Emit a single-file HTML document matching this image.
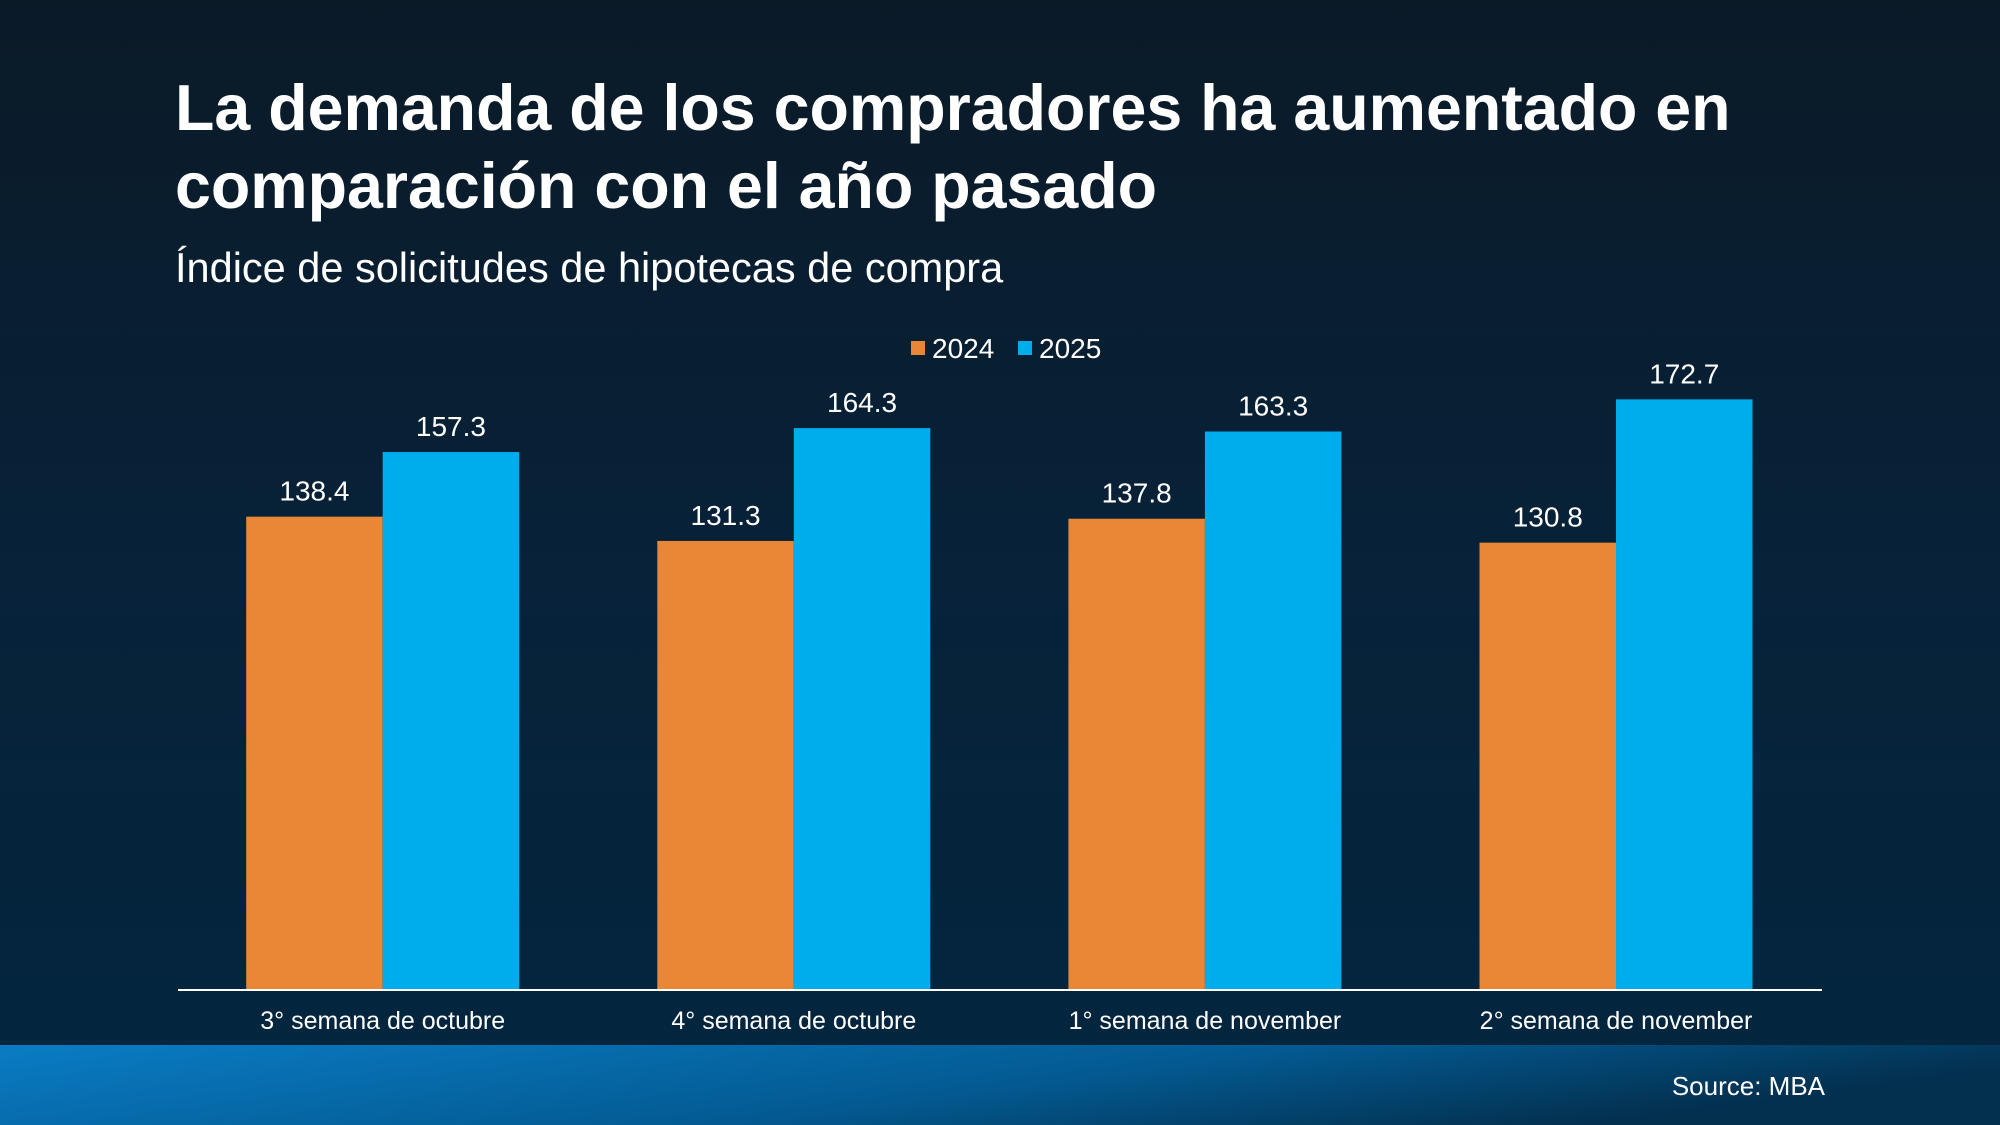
<!DOCTYPE html>
<html><head><meta charset="utf-8"><style>
html,body{margin:0;padding:0}
body{width:2000px;height:1125px;overflow:hidden;background:linear-gradient(180deg,#0b1a27 0%,#072239 50%,#03263f 100%);font-family:"Liberation Sans",Arial,sans-serif}
svg{display:block}
</style></head><body>
<svg width="2000" height="1125">
<defs><linearGradient id="ft" x1="0" y1="0" x2="1" y2="0.3"><stop offset="0" stop-color="#0a7cc4"/><stop offset="0.6" stop-color="#035a92"/><stop offset="1" stop-color="#03304f"/></linearGradient></defs>
<text x="175" y="130" font-size="64.5" font-weight="bold" fill="#fff">La demanda de los compradores ha aumentado en</text>
<text x="175" y="208" font-size="64.5" font-weight="bold" fill="#fff">comparación con el año pasado</text>
<text x="175" y="282" font-size="41.5" fill="#fff">Índice de solicitudes de hipotecas de compra</text>
<rect x="911" y="341" width="14" height="14" fill="#ea8736"/>
<text x="932" y="358" font-size="28" fill="#fff">2024</text>
<rect x="1018" y="341" width="14" height="14" fill="#00adec"/>
<text x="1039" y="358" font-size="28" fill="#fff">2025</text>
<g id="bars"></g>
<line x1="178" y1="990" x2="1822" y2="990" stroke="#fff" stroke-width="2"/>
<rect x="0" y="1045" width="2000" height="80" fill="url(#ft)"/>
<text x="1825" y="1095" font-size="26" fill="#fff" text-anchor="end">Source: MBA</text>
</svg>
<script>
const categories=["3° semana de octubre","4° semana de octubre","1° semana de november","2° semana de november"];
const values2024=[138.4,131.3,137.8,130.8];
const values2025=[157.3,164.3,163.3,172.7];
const labels2024=["138.4","131.3","137.8","130.8"];
const labels2025=["157.3","164.3","163.3","172.7"];
const NS="http://www.w3.org/2000/svg";
const g=document.getElementById('bars');
const y0=990,k=3.42,x0=382.7,step=411.1,bw=136.5;
const yS=v=>y0-v*k;
const xC=i=>x0+i*step;
function mk(t,a){const e=document.createElementNS(NS,t);for(const n in a)e.setAttribute(n,a[n]);g.appendChild(e);return e;}
categories.forEach((c,i)=>{
 const cx=xC(i);
 [[values2024,labels2024,"#ea8736",cx-bw,"2024"],[values2025,labels2025,"#00adec",cx,"2025"]].forEach(s=>{
  const v=s[0][i];
  const r=mk('rect',{x:s[3],y:yS(v),width:bw,height:v*k,fill:s[2]});
  
  
  const t=mk('text',{x:s[3]+bw/2,y:yS(v)-16,'font-size':28,fill:'#fff','text-anchor':'middle'});
  t.textContent=s[1][i];
  
  
 });
 const l=mk('text',{x:cx,y:1029,'font-size':25,fill:'#fff','text-anchor':'middle'});
 l.textContent=c;
 
 
});
</script>
</body></html>
